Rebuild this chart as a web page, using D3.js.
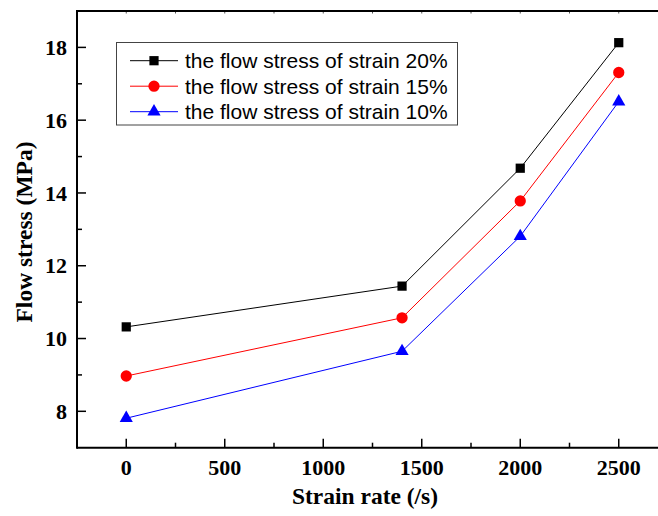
<!DOCTYPE html>
<html><head><meta charset="utf-8">
<script src="https://cdn.jsdelivr.net/npm/d3@7"></script>
<style>body{margin:0;background:#fff}svg{display:block}</style>
</head><body>
<svg id="c" width="658" height="516"></svg>
<script>
const strainRates = [0, 1400, 2000, 2500];
const stress20 = [10.32, 11.44, 14.68, 18.13];
const stress15 = [8.97, 10.57, 13.78, 17.31];
const stress10 = [7.81, 9.65, 12.81, 16.51];
const seriesNames = ["the flow stress of strain 20%", "the flow stress of strain 15%", "the flow stress of strain 10%"];
const xTicks = [0, 500, 1000, 1500, 2000, 2500];
const yTicks = [8, 10, 12, 14, 16, 18];

const series = [
  {name: seriesNames[0], values: stress20, color: "#000", shape: d3.symbolSquare, size: 85},
  {name: seriesNames[1], values: stress15, color: "#ff0000", shape: d3.symbolCircle, size: 100},
  {name: seriesNames[2], values: stress10, color: "#0000ff", shape: d3.symbolTriangle, size: 75}
];

const svg = d3.select("#c");
const L = 77, T = 11, B = 447.7;
const x = d3.scaleLinear().domain([-250, 2750]).range([L, L + 3000 * 0.197]);
const y = d3.scaleLinear().domain([7, 19]).range([B, T]);

const g = svg.append("g");
const minorX = d3.range(-250, 2751, 250).filter(v => v % 500 !== 0 && v > -250);
const minorY = [9, 11, 13, 15, 17];

// bottom axis ticks (inward)
g.append("g").selectAll("line").data(xTicks).join("line")
  .attr("x1", d => x(d)).attr("x2", d => x(d)).attr("y1", B).attr("y2", B - 9)
  .attr("stroke", "#000").attr("stroke-width", 1.5);
g.append("g").selectAll("line").data(minorX).join("line")
  .attr("x1", d => x(d)).attr("x2", d => x(d)).attr("y1", B).attr("y2", B - 5)
  .attr("stroke", "#000").attr("stroke-width", 1.5);
// top ticks
g.append("g").selectAll("line").data(xTicks.concat(minorX)).join("line")
  .attr("x1", d => x(d)).attr("x2", d => x(d)).attr("y1", T).attr("y2", T + 2.5)
  .attr("stroke", "#555").attr("stroke-width", 1);
// left ticks
g.append("g").selectAll("line").data(yTicks).join("line")
  .attr("x1", L).attr("x2", L + 9).attr("y1", d => y(d)).attr("y2", d => y(d))
  .attr("stroke", "#000").attr("stroke-width", 1.5);
g.append("g").selectAll("line").data(minorY).join("line")
  .attr("x1", L).attr("x2", L + 5).attr("y1", d => y(d)).attr("y2", d => y(d))
  .attr("stroke", "#000").attr("stroke-width", 1.5);

// frame
g.append("line").attr("x1", L).attr("x2", 700).attr("y1", B).attr("y2", B).attr("stroke", "#000").attr("stroke-width", 2);
g.append("line").attr("x1", L).attr("x2", 700).attr("y1", T).attr("y2", T).attr("stroke", "#000").attr("stroke-width", 2);
g.append("line").attr("x1", L).attr("x2", L).attr("y1", T - 1).attr("y2", B + 1).attr("stroke", "#000").attr("stroke-width", 2);

// tick labels
const tickFont = "'Liberation Serif','Times New Roman',serif";
g.append("g").selectAll("text").data(xTicks).join("text")
  .attr("x", d => x(d)).attr("y", B + 27).attr("text-anchor", "middle")
  .attr("font-family", tickFont).attr("font-weight", "bold").attr("font-size", 22)
  .text(d => d);
g.append("g").selectAll("text").data(yTicks).join("text")
  .attr("x", L - 10).attr("y", d => y(d)).attr("dy", "0.35em").attr("text-anchor", "end")
  .attr("font-family", tickFont).attr("font-weight", "bold").attr("font-size", 22)
  .text(d => d);

// axis titles
svg.append("text").attr("x", 365).attr("y", 504).attr("text-anchor", "middle")
  .attr("font-family", tickFont).attr("font-weight", "bold").attr("font-size", 23.5)
  .text("Strain rate (/s)");
svg.append("text").attr("transform", "translate(32,232) rotate(-90)").attr("text-anchor", "middle")
  .attr("font-family", tickFont).attr("font-weight", "bold").attr("font-size", 23.5)
  .text("Flow stress (MPa)");

// data
const line = d3.line().x((d, i) => x(strainRates[i])).y(d => y(d));
series.forEach(s => {
  svg.append("path").attr("d", line(s.values)).attr("fill", "none").attr("stroke", s.color).attr("stroke-width", 1);
  svg.append("g").selectAll("path").data(s.values).join("path")
    .attr("transform", (d, i) => `translate(${x(strainRates[i])},${y(d)})`)
    .attr("d", d3.symbol().type(s.shape).size(s.size)).attr("fill", s.color);
});

// legend
const lg = svg.append("g");
lg.append("rect").attr("x", 116.5).attr("y", 42.5).attr("width", 341).attr("height", 82.5)
  .attr("fill", "#fff").attr("stroke", "#444").attr("stroke-width", 1);
series.forEach((s, i) => {
  const yy = 60.7 + i * 25.5;
  lg.append("line").attr("x1", 130).attr("x2", 178).attr("y1", yy).attr("y2", yy).attr("stroke", s.color).attr("stroke-width", 1);
  lg.append("path").attr("transform", `translate(154,${yy})`).attr("d", d3.symbol().type(s.shape).size(s.size)).attr("fill", s.color);
  lg.append("text").attr("x", 185).attr("y", yy).attr("dy", "0.35em")
    .attr("font-family", "'Liberation Sans',Arial,sans-serif").attr("font-size", 21)
    .text(s.name);
});
</script>
</body></html>
